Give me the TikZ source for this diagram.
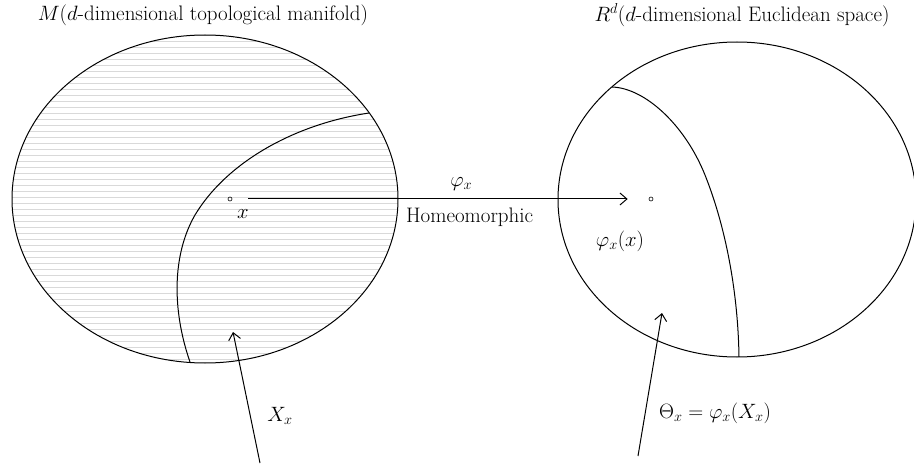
\documentclass[tikz,border=0pt]{standalone}
\usepackage{amsmath,amssymb}
\usepackage{tikz}
\usetikzlibrary{arrows.meta,positioning}

\begin{document}
\begin{tikzpicture}[
  x=1pt, y=-1pt,
  outline/.style={line width=1pt},
  hatch/.style={gray!30, line width=0.8pt},
  pt/.style={draw, circle, inner sep=0pt, minimum size=4pt, line width=0.6pt},
  lbl/.style={font=\fontsize{21}{25}\selectfont, inner sep=0pt},
  arr/.style={-{Straight Barb[length=7pt,width=12pt]}, line width=1pt}]
  \useasboundingbox (0,0) rectangle (914,468);
  % manifold M with its hatching
  \begin{scope}
    \clip (205,199) ellipse [x radius=193, y radius=164];
    \foreach \y in {35,41,...,365}
      \draw[hatch] (0,\y) -- (420,\y);
  \end{scope}
  \draw[outline] (205,199) ellipse [x radius=193, y radius=164];
  \draw[outline] (369,113) .. controls (290,125) and (225,165) .. (195,215)
    .. controls (172,255) and (172,310) .. (190,362);
  % Euclidean space R^d
  \draw[outline] (737,199.5) ellipse [x radius=179, y radius=157.5];
  \draw[outline] (612,87) .. controls (645,88) and (685,125) .. (705,175)
    .. controls (725,225) and (738,290) .. (739,357);
  % points
  \node[pt] (x) at (230,199) {};
  \node[pt] (fx) at (651,199) {};
  \node[lbl] (xlab) at (243,214) {$x$};
  \node[lbl] (fxlab) at (620,241) {$\varphi_x(x)$};
  % titles
  \node[lbl] (mtitle) at (203,15) {$M$($d$-dimensional topological manifold)};
  \node[lbl] (rtitle) at (742,15) {$R^d$($d$-dimensional Euclidean space)};
  % the map
  \draw[arr, shorten <=16pt, shorten >=21pt] (x) -- (fx)
    node[lbl, pos=0.55, above=8pt] (phi) {$\varphi_x$}
    node[lbl, pos=0.57, below=8pt] (homeo) {Homeomorphic};
  % neighbourhoods
  \coordinate (xxtail) at (260,463);
  \coordinate (xxtip) at (233,332);
  \coordinate (thtail) at (638,456);
  \coordinate (thtip) at (662,313);
  \draw[arr] (xxtail) -- (xxtip);
  \draw[arr] (thtail) -- (thtip);
  \node[lbl] (xx) at (280,416) {$X_x$};
  \node[lbl] (theta) at (715,413) {$\Theta_x = \varphi_x(X_x)$};
\end{tikzpicture}
\end{document}
